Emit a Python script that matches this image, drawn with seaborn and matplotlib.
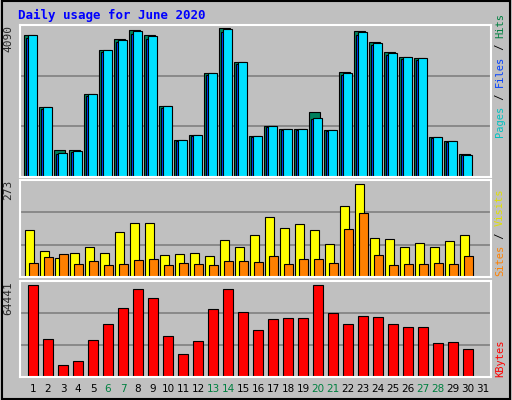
import numpy as np
import matplotlib
matplotlib.use("Agg")
import matplotlib.pyplot as plt
import seaborn as sns
import pandas as pd

days = list(range(1, 32))
hits_z = [108,322,448,448,283,151,118,94,109,319,418,403,220,88,187,406,376,385,385,337,388,216,97,127,157,172,175,409,421,460]
files_z = [108,322,457,451,283,151,121,97,112,319,418,403,220,91,187,406,376,385,385,352,388,220,100,130,160,172,175,409,421,463]
hits = [round((528 - z) / 450 * 4090) for z in hits_z]
files = [round((528 - z) / 450 * 4090) for z in files_z]
pages = [round(f * 0.98) for f in files]
visits_z = [166,226,247,232,214,232,169,145,145,238,235,232,241,193,214,178,127,157,148,166,205,94,28,187,190,214,202,214,199,181]
sites_z = [262,244,235,265,256,268,265,253,250,268,262,265,268,256,256,259,241,265,250,250,262,160,115,238,268,265,265,262,265,241]
visits = [round((304 - z) / 288 * 273) for z in visits_z]
sites = [round((304 - z) / 288 * 273) for z in sites_z]
kb_z = [328,490,565,553,493,445,397,340,367,481,532,496,400,340,409,463,430,427,427,328,412,445,421,424,445,454,454,502,499,520]
kbytes = [round((602 - z) / 286 * 64441) for z in kb_z]
weekend = [6, 7, 13, 14, 20, 21, 27, 28]

sns.set_style("white")
plt.rcParams['font.family'] = ['DejaVu Sans Mono', 'DejaVu Sans']
W, H = 512, 400
fig = plt.figure(figsize=(W/100, H/100), dpi=100, facecolor="#C0C0C0")

def ax_px(x0, y0, x1, y1):
    return fig.add_axes([x0/W, 1 - y1/H, (x1-x0)/W, (y1-y0)/H])

x0 = 0.13
xl = (x0, x0 + 471/15)
d = np.array(days[:30])

def style(ax, top):
    ax.set_facecolor("#C0C0C0")
    ax.set_xlim(*xl)
    ax.set_ylim(0, top)
    for s in ax.spines.values():
        s.set_color("white"); s.set_linewidth(1.5)
    ax.set_xticks([]); ax.set_yticks([])
    for k in (1/3, 2/3):
        ax.axhline(top*k, color="#808080", lw=1.2, zorder=0)

ax1 = ax_px(20, 25, 491, 177)
style(ax1, 4090*1.0)
ax1.bar(d - 0.6, hits, width=0.75, align='edge', color="#00805c", edgecolor="black", lw=0.8)
ax1.bar(d - 0.47, pages, width=0.65, align='edge', color="#0040FF", edgecolor="black", lw=0.8)
ax1.bar(d - 0.37, files, width=0.62, align='edge', color="#00E0FF", edgecolor="black", lw=0.8)
ax1.text(-0.025, 1.0, "4090", transform=ax1.transAxes, rotation=90, ha='center', va='top', fontsize=8)

ax2 = ax_px(20, 180, 491, 277)
style(ax2, 273*1.0)
ax2.bar(d - 0.53, visits, width=0.6, align='edge', color="#FFFF00", edgecolor="black", lw=0.8)
ax2.bar(d - 0.27, sites, width=0.6, align='edge', color="#FF8000", edgecolor="black", lw=0.8)
ax2.text(-0.025, 1.0, "273", transform=ax2.transAxes, rotation=90, ha='center', va='top', fontsize=8)

ax3 = ax_px(20, 281, 491, 377)
df = pd.DataFrame({"day": d, "kb": kbytes})
sns.barplot(data=df, x="day", y="kb", native_scale=True, width=0.7, color="#FF0000",
            edgecolor="black", linewidth=0.8, saturation=1, ax=ax3)
style(ax3, 64441*1.0)
ax3.set_xlabel(""); ax3.set_ylabel("")
ax3.text(-0.025, 1.0, "64441", transform=ax3.transAxes, rotation=90, ha='center', va='top', fontsize=8)

for i in days:
    xp = 20 + (i - x0) * 15
    fig.text(xp/W, 1 - 389/H, str(i), ha='center', va='center', fontsize=7.5, family='DejaVu Sans',
             color="#008040" if i in weekend else "black")

fig.text(18/W, 1 - 15/H, "Daily usage for June 2020", color="#0000FF", fontsize=9, fontweight='bold', va='center')

def vlabel(parts, x, ybottom):
    y = ybottom
    for txt, col in parts:
        t = fig.text(x/W, 1 - y/H, txt, rotation=90, color=col, fontsize=7.5, ha='center', va='bottom')
        y -= len(txt) * 6.2
vlabel([("Pages", "#00C0C0"), (" / ", "black"), ("Files", "#0040FF"), (" / ", "black"), ("Hits", "#008040")], 500, 137)
vlabel([("Sites", "#FF8000"), (" / ", "black"), ("Visits", "#E0E000")], 500, 276)
vlabel([("KBytes", "#FF0000")], 500, 377)

# outer bevel
fig.patches.append(plt.Rectangle((0.003, 0.003), 0.994, 0.994, transform=fig.transFigure, fill=False, ec="black", lw=1.5))
fig.savefig("out.png", dpi=100, facecolor="#C0C0C0")
